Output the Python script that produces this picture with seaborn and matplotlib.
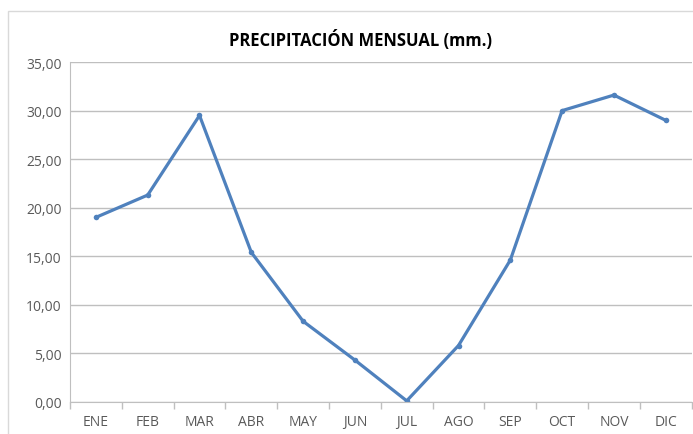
import numpy as np
import pandas as pd
import seaborn as sb
import matplotlib.pyplot as plt
from matplotlib.patches import Rectangle
from matplotlib.ticker import FuncFormatter, FixedLocator

meses = ['ENE', 'FEB', 'MAR', 'ABR', 'MAY', 'JUN', 'JUL', 'AGO', 'SEP', 'OCT', 'NOV', 'DIC']
precip = [19.0, 21.3, 29.5, 15.4, 8.3, 4.3, 0.1, 5.8, 14.6, 30.0, 31.6, 29.0]

df = pd.DataFrame({'Mes': meses, 'Precipitacion': precip})

sb.set_style("white")
plt.rcParams['font.family'] = ['Open Sans', 'DejaVu Sans']

fig = plt.figure(figsize=(6.93, 4.35), dpi=100)
ax = fig.add_axes([0.101, 0.074, 0.897, 0.781])

sb.lineplot(data=df, x='Mes', y='Precipitacion', ax=ax, color='#4F81BD',
            linewidth=2.3, marker='o', markersize=4, markeredgewidth=0, sort=False)

ax.set_ylim(0, 35)
ax.set_xlim(-0.5, len(meses) - 0.5)
ax.set_yticks(np.arange(0, 36, 5))
ax.yaxis.set_major_formatter(FuncFormatter(lambda v, p: f"{v:.2f}".replace('.', ',')))
ax.grid(axis='y', color='#bfbfbf', linewidth=1)
ax.set_axisbelow(True)

ax.xaxis.set_minor_locator(FixedLocator(np.arange(-0.5, len(meses), 1)))
ax.tick_params(axis='x', which='major', length=0, pad=9, labelsize=10, labelcolor='#595959')
ax.tick_params(axis='x', which='minor', length=5, color='#bfbfbf', width=1, direction='out', bottom=True)
ax.tick_params(axis='y', length=0, pad=6, labelsize=10, labelcolor='#595959')

for s in ['top', 'right']:
    ax.spines[s].set_visible(False)
ax.spines['left'].set_color('#bfbfbf')
ax.spines['bottom'].set_color('#bfbfbf')

ax.set_xlabel('')
ax.set_ylabel('')
fig.text(0.52, 0.908, 'PRECIPITACIÓN MENSUAL (mm.)', ha='center', va='center',
         fontsize=12, fontweight='bold', color='black')

fig.patches.append(Rectangle((8 / 693, -0.01), 1.0, 1 - 12 / 435 + 0.01, transform=fig.transFigure,
                             fill=False, edgecolor='#d9d9d9', linewidth=1))

plt.savefig('out.png', dpi=100)
